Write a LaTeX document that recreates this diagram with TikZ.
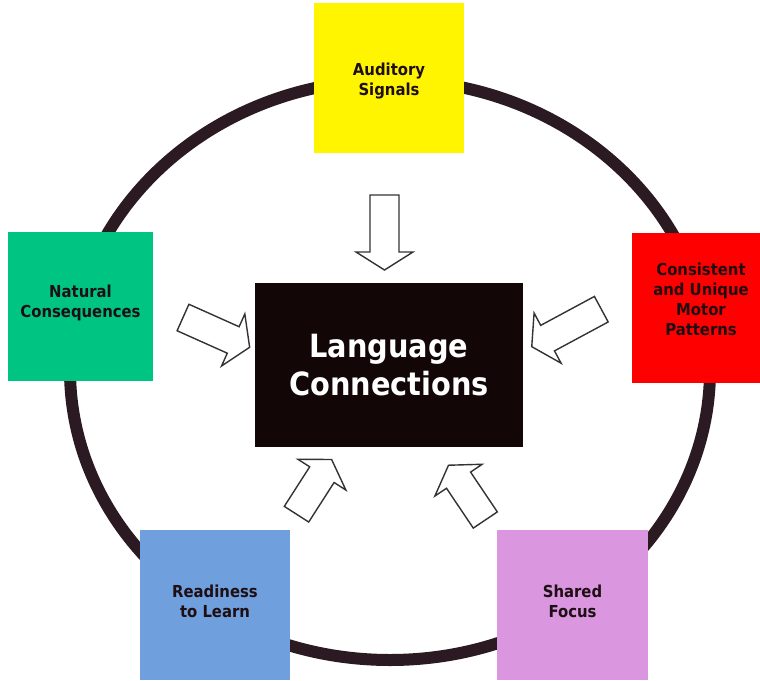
\documentclass[tikz,border=0pt]{standalone}
\usepackage{fontspec}
\setmainfont{DejaVu Sans}[FakeStretch=0.9]
\definecolor{ringc}{HTML}{2B1A22}
\definecolor{ylw}{HTML}{FFF500}
\definecolor{grn}{HTML}{00C482}
\definecolor{rd}{HTML}{FF0000}
\definecolor{blu}{HTML}{6F9FDC}
\definecolor{pnk}{HTML}{DA96DF}
\definecolor{blk}{HTML}{120606}
\definecolor{txt}{HTML}{1E0F14}
\definecolor{arrc}{HTML}{333333}
\newcommand\blockarr[4]{%
  \begin{scope}[shift={(#1,#2)},rotate=#3]
    \draw[barrow] (0,14.5) -- ({#4-18},14.5) -- ({#4-18},28.5) -- (#4,0)
      -- ({#4-18},-28.5) -- ({#4-18},-14.5) -- (0,-14.5) -- cycle;
  \end{scope}}
\begin{document}
\begin{tikzpicture}[x=1pt,y=-1pt,
  ring/.style={draw=ringc,line width=12pt},
  sbox/.style={draw=none,inner sep=0pt},
  stext/.style={inner sep=0pt,align=center,text=txt,
    font=\fontsize{16.5}{20}\selectfont\bfseries},
  bigbox/.style={draw=none,inner sep=0pt,align=center,text=white,fill=blk,
    font=\fontsize{32}{38}\selectfont\bfseries},
  barrow/.style={draw=arrc,fill=white,line width=1.4pt,line join=miter}]
\useasboundingbox[fill=white] (0,0) rectangle (760,680);
\draw[ring] (390,370) ellipse [x radius=320pt, y radius=290pt];
\node[sbox,fill=ylw,minimum width=150pt,minimum height=150pt] (aud) at (389,78) {};
\node[sbox,fill=grn,minimum width=145pt,minimum height=149pt] (nat) at (80.5,306.5) {};
\node[sbox,fill=rd,minimum width=138pt,minimum height=150pt] (con) at (701,308) {};
\node[sbox,fill=blu,minimum width=150pt,minimum height=150pt] (rea) at (215,605) {};
\node[sbox,fill=pnk,minimum width=151pt,minimum height=150pt] (sha) at (572.5,605) {};
\node[stext] (audt) at ([yshift=-3pt]aud.center) {Auditory\\Signals};
\node[stext] (natt) at ([yshift=4pt]nat.center) {Natural\\Consequences};
\node[stext] (cont) at ([yshift=9pt]con.center) {Consistent\\and Unique\\Motor\\Patterns};
\node[stext] (reat) at ([yshift=4pt]rea.center) {Readiness\\to Learn};
\node[stext] (shat) at ([yshift=4pt]sha.center) {Shared\\Focus};
\node[bigbox,minimum width=268pt,minimum height=164pt] (lang) at (389,365) {Language\\Connections};
\blockarr{384.5}{195}{-90}{75}
\blockarr{183}{317.5}{-24.1}{73}
\blockarr{601.3}{309.2}{-151.7}{79}
\blockarr{296.5}{514.2}{57.3}{65}
\blockarr{485.3}{520}{123.9}{66}
\end{tikzpicture}
\end{document}
